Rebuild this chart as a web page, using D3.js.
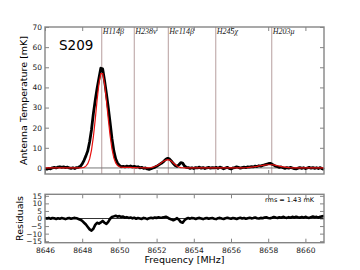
<!DOCTYPE html>
<html>
<head>
<meta charset="utf-8">
<script src="https://cdn.jsdelivr.net/npm/d3@7"></script>
<style>
  body { margin: 0; background: #fff; }
  svg { display: block; font-family: "DejaVu Sans", sans-serif; }
  .tick text { fill: #222; }
  .tick line { stroke: #666; }
</style>
</head>
<body>
<svg id="canvas" width="360" height="270"></svg>
<script>
// channels: 8646.0 .. 8661.0 MHz, 0.1 MHz apart
const freqStart = 8646.0,
  freqStep = 0.1;

// observed spectrum [mK]
const spectrum = [
  -0.3, -0.6, -0.2, -0.4, 0.1, 0.3, 0, 0.4, 0.6, 0.3,
  0.5, 0.2, 0.4, 0, -0.2, 0.1, -0.3, 0.2, 0.3, 0.8,
  2, 3.8, 6, 8.5, 13, 19, 27, 33.5, 39.5, 44.5,
  49.5, 49.2, 43.5, 37, 30, 22.5, 14.5, 8.5, 4.5, 2.4,
  1.3, 0.6, 0.8, 0.5, 0.9, 0.6, 1, 0.5, 0.8, 0.4,
  0.6, 0.1, 0.3, -0.2, 0, -0.5, -0.7, -0.4, 0, 0.3,
  0.8, 1.4, 2, 2.6, 3.4, 4.3, 4.8, 4.4, 3.4, 2.2,
  1.2, 0.8, 1.6, 2.6, 2.4, 1, 0.3, 0.2, -0.2, 0.1,
  -0.3, 0.2, 0, 0.4, -0.1, 0.2, -0.3, 0.1, 0.3, -0.1,
  0.2, 0, 0.3, -0.2, 0.4, 0.1, -0.4, 0, 0.3, -0.2,
  -0.5, 0, 0.2, 0.5, 0.3, -0.1, 0.2, 0.4, 0.2, 0.5,
  0.4, 0.7, 0.5, 0.9, 0.7, 1.1, 0.9, 1.3, 1.5, 1.8,
  2.1, 2.3, 1.9, 1.4, 0.9, 0.6, 0.3, 0.5, 0.1, -0.2,
  0.2, -0.1, 0.3, 0, -0.3, -0.5, -0.1, 0.2, -0.2, 0.1,
  -0.3, 0, 0.3, -0.1, 0.2, -0.2, 0.1, -0.3, 0.2, -0.4,
  -0.8,
];

// gaussian fit [mK]
const fit = [
  0, 0, 0, 0, 0, 0, 0, 0, 0, 0,
  0, 0, 0, 0, 0, 0, 0, 0, 0, 0,
  0.1, 0.3, 0.9, 2.1, 4.5, 8.9, 15.4, 24, 33.6, 41.9,
  46.8, 46.8, 41.9, 33.6, 24.5, 16, 9.5, 5, 2.5, 1.2,
  0.6, 0.4, 0.3, 0.3, 0.3, 0.3, 0.3, 0.2, 0.2, 0.2,
  0.1, 0.1, 0.1, 0, 0, 0, 0.1, 0.2, 0.4, 0.7,
  1.1, 1.6, 2.2, 2.9, 3.5, 3.9, 4.1, 3.9, 3.3, 2.5,
  1.7, 1, 0.5, 0.2, 0.1, 0, 0, 0, 0, 0,
  0, 0, 0, 0, 0, 0, 0, 0, 0, 0,
  0, 0, 0, 0, 0, 0, 0, 0, 0, 0,
  0, 0, 0, 0, 0, 0, 0, 0.1, 0.1, 0.2,
  0.3, 0.4, 0.5, 0.7, 0.8, 1, 1.1, 1.3, 1.4, 1.5,
  1.6, 1.6, 1.6, 1.5, 1.3, 1.1, 0.9, 0.7, 0.5, 0.4,
  0.3, 0.2, 0.1, 0, 0, 0, 0, 0, 0, 0,
  0, 0, 0, 0, 0, 0, 0, 0, 0, 0,
  0,
];

// residuals [mK]
const residuals = [
  0.3, 0, 0.4, -0.2, 0.3, 0.1, -0.3, 0.2, -0.1, 0.3,
  0, -0.4, 0.1, 0.3, -0.2, 0.2, 0.4, 0.1, -0.3, -0.8,
  -1.6, -2.8, -4, -5.6, -7.2, -8, -6.8, -4.2, -2.8, -3.4,
  -2.6, -1.6, -2.8, -3.6, -2.2, -0.2, 1, 1.4, 1.8, 1.2,
  1.6, 1, 1.3, 0.6, 0.9, 0.4, 0.7, 0.1, 0.5, -0.2,
  0.3, 0, -0.3, 0.4, 0.1, -0.4, 0.2, 0.5, 0.2, 0.6,
  0.4, 0.8, 0.5, 0.6, 0.9, 1.2, 0.6, -0.2, -0.6, -1.2,
  -0.6, 0.2, -0.8, -2.4, -2.8, -1.2, -0.2, 0.3, -0.1, 0.4,
  0.1, -0.3, 0.2, 0.4, 0, -0.4, 0.1, 0.3, -0.2, 0.2,
  0.3, -0.1, -0.4, 0.2, 0.4, 0, -0.3, 0.2, 0.5, 0.1,
  -0.2, 0.3, 0.1, -0.3, 0.2, 0.5, 0, 0.3, -0.2, 0.2,
  0.5, 0.1, 0.3, 0.7, 0.2, 0, 0.4, 0.2, 0.6, 0.8,
  0.4, 0.1, 0.5, 1, 0.6, 0.3, 0.8, 0.5, 1.1, 0.7,
  0.4, 0.9, 0.5, 1.1, 0.7, 1.2, 0.8, 0.5, 1, 0.6,
  1.1, 0.7, 0.4, 0.9, 1.3, 0.8, 1.1, 0.6, 1.2, 1.4,
  1.6,
];

// line identifications
const lineNames = ["H114\u03b2", "H238\u03bd", "He114\u03b2", "H245\u03c7", "H203\u03bc"];
const lineFreqs = [8649.05, 8650.8, 8652.63, 8655.18, 8658.19];

const xTicks = [8646, 8648, 8650, 8652, 8654, 8656, 8658, 8660];
const topTicks = [0, 10, 20, 30, 40, 50, 60, 70];
const resTicks = [-15, -10, -5, 0, 5, 10, 15];

const sourceName = "S209";
const rmsText = "rms =  1.43 mK";

const svg = d3.select("#canvas");
const left = 45,
  right = 324;
const top1 = { y0: 27, y1: 174 };
const bot1 = { y0: 194.3, y1: 242.7 };

const freq = (i) => freqStart + i * freqStep;

const x = d3.scaleLinear().domain([8646, 8661]).range([left, right]);
const yTop = d3.scaleLinear().domain([-3, 70]).range([top1.y1, top1.y0]);
const yRes = d3.scaleLinear().domain([-16, 16]).range([bot1.y1, bot1.y0]);

function panel(y, box, yticks, showXLabels) {
  const g = svg.append("g");
  // ticks all round, pointing inwards
  g.append("g")
    .attr("transform", `translate(0,${box.y1})`)
    .call(d3.axisBottom(x).tickValues(xTicks).tickSize(-4).tickSizeOuter(0).tickPadding(5)
      .tickFormat(showXLabels ? d3.format("d") : () => ""))
    .call((a) => a.select(".domain").remove());
  g.append("g")
    .attr("transform", `translate(0,${box.y0})`)
    .call(d3.axisTop(x).tickValues(xTicks).tickSize(-4).tickSizeOuter(0).tickFormat(() => ""))
    .call((a) => a.select(".domain").remove());
  g.append("g")
    .attr("transform", `translate(${left},0)`)
    .call(d3.axisLeft(y).tickValues(yticks).tickSize(-4).tickSizeOuter(0).tickPadding(3)
      .tickFormat((d) => (d < 0 ? "\u2212" + Math.abs(d) : d)))
    .call((a) => a.select(".domain").remove());
  g.append("g")
    .attr("transform", `translate(${right},0)`)
    .call(d3.axisRight(y).tickValues(yticks).tickSize(-4).tickSizeOuter(0).tickFormat(() => ""))
    .call((a) => a.select(".domain").remove());
  g.selectAll(".tick text").attr("font-size", 7.5).attr("font-family", "DejaVu Sans");
  g.selectAll(".tick line").attr("stroke-width", 0.8);
  return g;
}

// ---- top panel ----
const gTop = panel(yTop, top1, topTicks, false);

svg.append("g")
  .selectAll("line")
  .data(lineFreqs)
  .join("line")
  .attr("x1", (d) => x(d))
  .attr("x2", (d) => x(d))
  .attr("y1", top1.y0)
  .attr("y2", top1.y1)
  .attr("stroke", "#bda7a7")
  .attr("stroke-width", 1.1);

svg.append("g")
  .selectAll("text")
  .data(lineNames)
  .join("text")
  .attr("x", (d, i) => x(lineFreqs[i]) + 1)
  .attr("y", top1.y0 + 7)
  .attr("font-family", "Liberation Serif, serif")
  .attr("font-style", "italic")
  .attr("font-size", 8)
  .attr("fill", "#222")
  .text((d) => d);

svg.append("line")
  .attr("x1", left).attr("x2", right)
  .attr("y1", yTop(0)).attr("y2", yTop(0))
  .attr("stroke", "#777").attr("stroke-width", 1);

const lineTop = d3.line().x((d, i) => x(freq(i))).y((d) => yTop(d));

svg.append("path")
  .datum(spectrum)
  .attr("d", lineTop)
  .attr("fill", "none")
  .attr("stroke", "#000")
  .attr("stroke-width", 2.8)
  .attr("stroke-linejoin", "round");

svg.append("path")
  .datum(fit)
  .attr("d", lineTop)
  .attr("fill", "none")
  .attr("stroke", "#e8110f")
  .attr("stroke-width", 1.2);

svg.append("text")
  .attr("x", 59).attr("y", 49.5)
  .attr("font-size", 13.5)
  .attr("fill", "#000")
  .text(sourceName);

svg.append("rect")
  .attr("x", left).attr("y", top1.y0)
  .attr("width", right - left).attr("height", top1.y1 - top1.y0)
  .attr("fill", "none").attr("stroke", "#858585").attr("stroke-width", 1.4);

// ---- residual panel ----
const gRes = panel(yRes, bot1, resTicks, true);

svg.append("line")
  .attr("x1", left).attr("x2", right)
  .attr("y1", yRes(0)).attr("y2", yRes(0))
  .attr("stroke", "#000").attr("stroke-width", 0.8);

svg.append("path")
  .datum(residuals)
  .attr("d", d3.line().x((d, i) => x(freq(i))).y((d) => yRes(d)))
  .attr("fill", "none")
  .attr("stroke", "#000")
  .attr("stroke-width", 2.6)
  .attr("stroke-linejoin", "round");

svg.append("text")
  .attr("x", 265).attr("y", 202)
  .attr("font-size", 6.5)
  .attr("fill", "#000")
  .text(rmsText);

svg.append("rect")
  .attr("x", left).attr("y", bot1.y0)
  .attr("width", right - left).attr("height", bot1.y1 - bot1.y0)
  .attr("fill", "none").attr("stroke", "#858585").attr("stroke-width", 1.4);

// axis labels
svg.append("text")
  .attr("transform", `translate(27,${(top1.y0 + top1.y1) / 2}) rotate(-90)`)
  .attr("text-anchor", "middle")
  .attr("font-size", 9.5)
  .text("Antenna Temperature [mK]");

svg.append("text")
  .attr("transform", `translate(23,${(bot1.y0 + bot1.y1) / 2}) rotate(-90)`)
  .attr("text-anchor", "middle")
  .attr("font-size", 9.5)
  .text("Residuals");

svg.append("text")
  .attr("x", (left + right) / 2)
  .attr("y", 263)
  .attr("text-anchor", "middle")
  .attr("font-size", 9.5)
  .text("Frequency [MHz]");
</script>
</body>
</html>
